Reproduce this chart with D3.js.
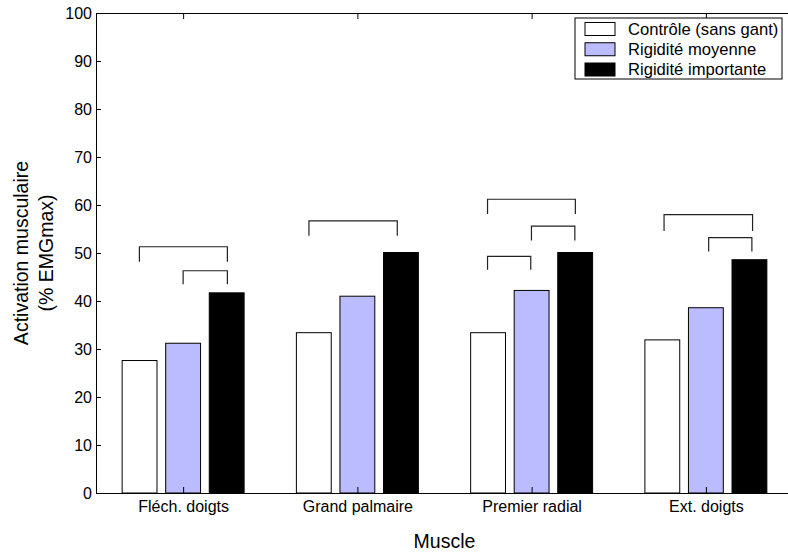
<!DOCTYPE html>
<html>
<head>
<meta charset="utf-8">
<script src="https://cdn.jsdelivr.net/npm/d3@7"></script>
<style>
  body { margin: 0; background: #fff; }
  text { font-family: "Liberation Sans", Arial, sans-serif; }
</style>
</head>
<body>
<script>
const width = 788;
const height = 554;

// Data
const muscles = ["Fléch. doigts", "Grand palmaire", "Premier radial", "Ext. doigts"];
const conditions = ["Contrôle (sans gant)", "Rigidité moyenne", "Rigidité importante"];
const controle = [27.6, 33.4, 33.4, 31.9];
const moyenne = [31.2, 41.0, 42.2, 38.6];
const importante = [41.7, 50.1, 50.1, 48.6];
const yTicks = [0, 10, 20, 30, 40, 50, 60, 70, 80, 90, 100];

// significance brackets: [x1, x2, top, legs end] in axis units
const brackets = [
  [0.749, 1.254, 51.3, 48.2],
  [1.000, 1.254, 46.3, 43.5],
  [1.722, 2.229, 56.7, 53.6],
  [2.747, 3.251, 61.2, 58.1],
  [2.999, 3.248, 55.6, 52.6],
  [2.747, 2.995, 49.3, 46.5],
  [3.760, 4.268, 58.0, 54.6],
  [4.016, 4.264, 53.2, 50.3]
];

const series = [controle, moyenne, importante];
const colors = ["#ffffff", "#bbbbff", "#000000"];
const barOffset = [-0.25, 0, 0.25];
const barWidth = 0.2;

const plotLeft = 96, plotRight = 793, plotTop = 13, plotBottom = 493;

const svg = d3.select("body").append("svg")
    .attr("width", width)
    .attr("height", height);

const x = d3.scaleLinear().domain([0.5, 4.5]).range([plotLeft, plotRight]);
const y = d3.scaleLinear().domain([0, 100]).range([plotBottom, plotTop]);

// bars
series.forEach((vals, s) => {
  svg.append("g")
    .selectAll("rect")
    .data(vals)
    .join("rect")
    .attr("x", (d, i) => x(i + 1 + barOffset[s] - barWidth / 2))
    .attr("y", d => y(d))
    .attr("width", x(barWidth) - x(0))
    .attr("height", d => y(0) - y(d))
    .attr("fill", colors[s])
    .attr("stroke", "#000")
    .attr("stroke-width", 1);
});

// brackets
svg.append("g")
  .selectAll("path")
  .data(brackets)
  .join("path")
  .attr("d", d => `M${x(d[0])},${y(d[3])}V${y(d[2])}H${x(d[1])}V${y(d[3])}`)
  .attr("fill", "none")
  .attr("stroke", "#222")
  .attr("stroke-width", 1.2);

// axes
const gLeft = svg.append("g")
  .attr("transform", `translate(${plotLeft},0)`)
  .call(d3.axisLeft(y).tickValues(yTicks).tickSizeInner(-5).tickSizeOuter(0).tickPadding(4));

const gRight = svg.append("g")
  .attr("transform", `translate(${plotRight},0)`)
  .call(d3.axisRight(y).tickValues(yTicks).tickSizeInner(-5).tickSizeOuter(0).tickFormat(""));

const gBottom = svg.append("g")
  .attr("transform", `translate(0,${plotBottom})`)
  .call(d3.axisBottom(x).tickValues([1, 2, 3, 4]).tickSizeInner(-6).tickSizeOuter(0)
    .tickPadding(8).tickFormat(d => muscles[d - 1]));

const gTop = svg.append("g")
  .attr("transform", `translate(0,${plotTop})`)
  .call(d3.axisTop(x).tickValues([1, 2, 3, 4]).tickSizeInner(-6).tickSizeOuter(0).tickFormat(""));

[gLeft, gRight, gBottom, gTop].forEach(g => {
  g.selectAll("text").attr("font-size", 16).attr("fill", "#000")
    .attr("font-family", "Liberation Sans, Arial, sans-serif");
  g.selectAll("line, path").attr("stroke", "#000");
});

// axis labels
svg.append("text")
  .attr("x", (plotLeft + plotRight) / 2)
  .attr("y", 548)
  .attr("text-anchor", "middle")
  .attr("font-size", 19.5)
  .text("Muscle");

const yl = svg.append("text")
  .attr("transform", `translate(28,${(plotTop + plotBottom) / 2}) rotate(-90)`)
  .attr("text-anchor", "middle")
  .attr("font-size", 19.5);
yl.append("tspan").attr("x", 0).attr("dy", 0).text("Activation musculaire");
yl.append("tspan").attr("x", 0).attr("dy", 25).text("(% EMGmax)");

// legend
const legend = svg.append("g");
legend.append("rect")
  .attr("x", 575).attr("y", 18)
  .attr("width", 207).attr("height", 61)
  .attr("fill", "#fff").attr("stroke", "#000");

const rowY = d3.scalePoint().domain(conditions).range([29, 69.5]);
conditions.forEach((c, i) => {
  legend.append("rect")
    .attr("x", 585).attr("y", rowY(c) - 6.5)
    .attr("width", 30).attr("height", 13)
    .attr("fill", colors[i]).attr("stroke", "#000");
  legend.append("text")
    .attr("x", 628).attr("y", rowY(c))
    .attr("dy", "0.35em")
    .attr("font-size", 16.6)
    .text(c);
});
</script>
</body>
</html>
